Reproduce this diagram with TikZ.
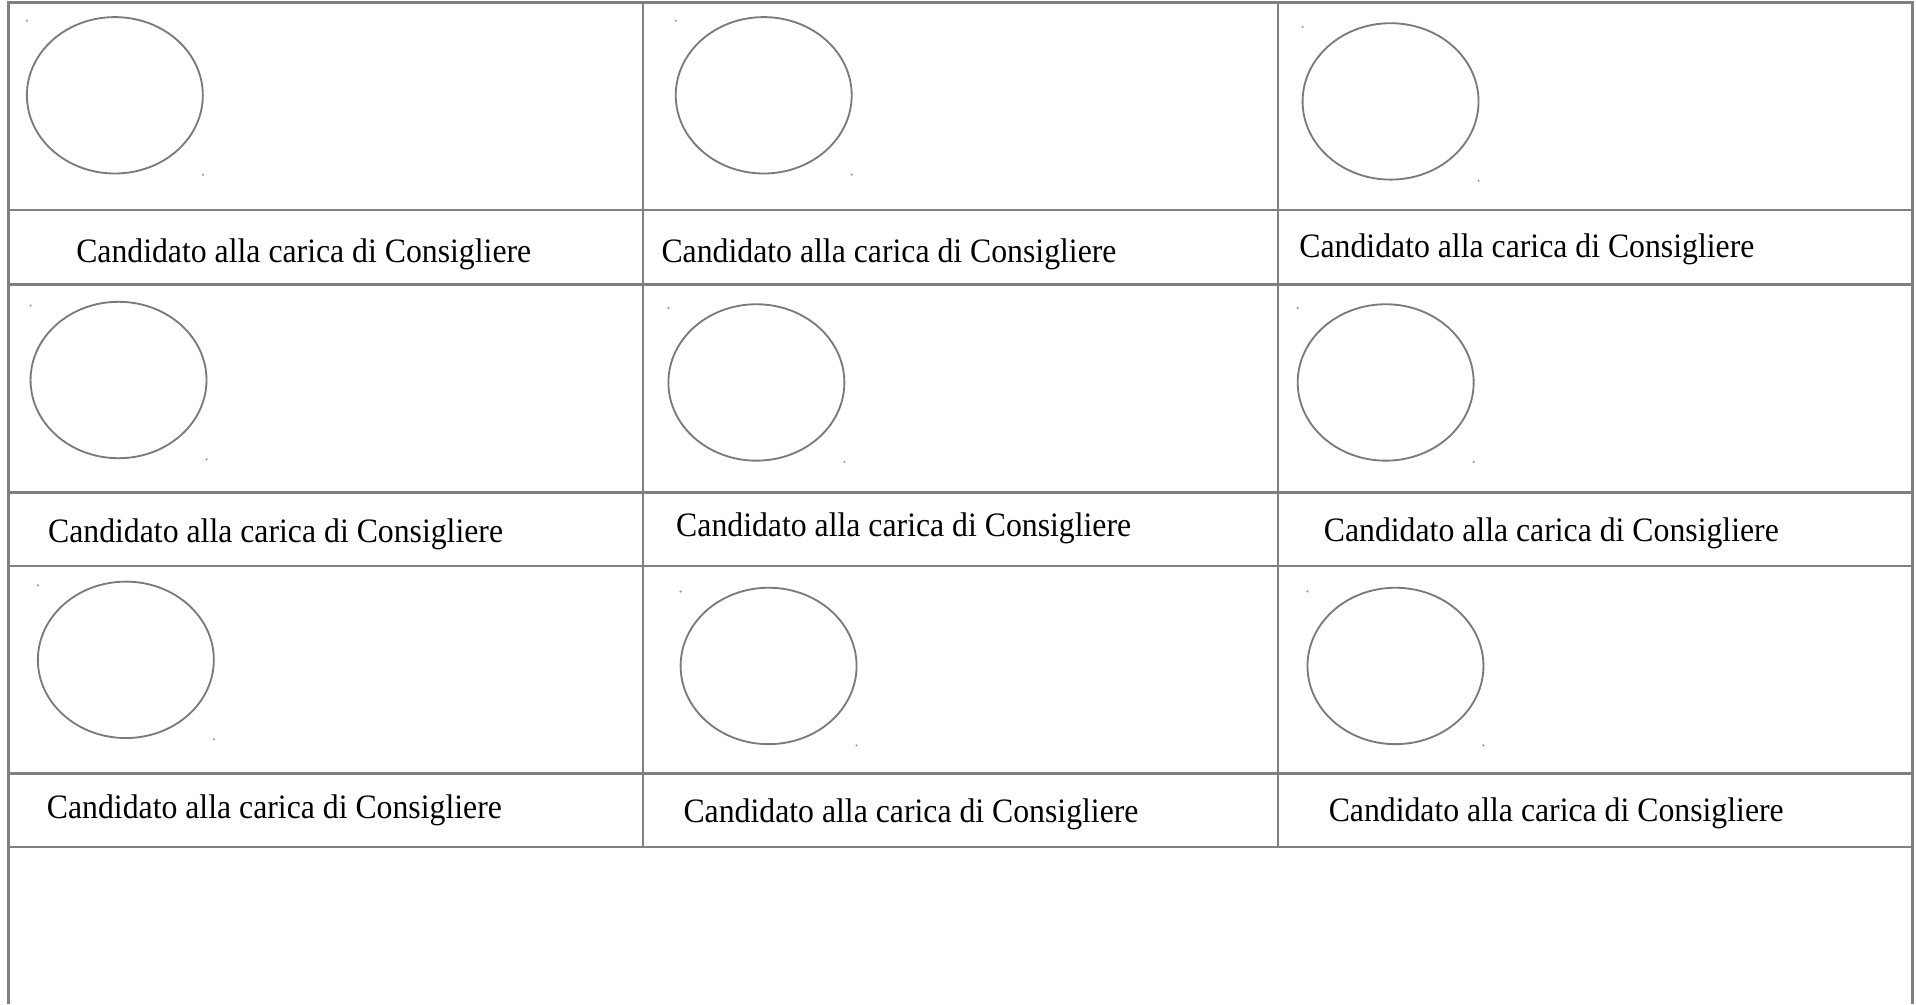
\documentclass[tikz,border=0pt]{standalone}
\usepackage{fontspec}
\setmainfont{Liberation Serif}
\newcommand{\candlabel}{\scalebox{0.928}[1]{Candidato alla carica di Consigliere}}
\begin{document}
\begin{tikzpicture}[x=0.5pt,y=-0.5pt,
  gridline/.style={draw=black!50,line width=1pt},
  oval/.style={draw=black!52,line width=0.75pt},
  speck/.style={fill=black!40},
  label/.style={anchor=base west,inner sep=0pt,font=\fontsize{14}{16}\selectfont}]
\fill[white] (0,0) rectangle (1568,822);
\useasboundingbox (0,0) rectangle (1568,822);
% outer frame
\draw[gridline] (7,822) -- (7,2) -- (1565,2) -- (1565,822);
% horizontal lines
\foreach \yy in {172,233,403,463,633,693}
  \draw[gridline] (7,\yy) -- (1565,\yy);
% column dividers
\draw[gridline] (526,2) -- (526,693);
\draw[gridline] (1046,2) -- (1046,693);
% ovals with corner specks
\foreach \cx/\cy/\nm in {94/78/a,625/78/b,1138/83/c,97/311/d,619/313/e,1134/313/f,103/540/g,629/545/h,1142/545/i}{
  \draw[oval] (\cx,\cy) ellipse [x radius=72,y radius=64];
  \fill[speck] (\cx-72,\cy-61) circle (0.5pt);
  \fill[speck] (\cx+72,\cy+65) circle (0.5pt);
}
% labels
\node[label] (t1) at (62,215) {\candlabel};
\node[label] (t2) at (541,215) {\candlabel};
\node[label] (t3) at (1063,211) {\candlabel};
\node[label] (t4) at (39,444) {\candlabel};
\node[label] (t5) at (553,439) {\candlabel};
\node[label] (t6) at (1083,443) {\candlabel};
\node[label] (t7) at (38,670) {\candlabel};
\node[label] (t8) at (559,673) {\candlabel};
\node[label] (t9) at (1087,672) {\candlabel};
\end{tikzpicture}
\end{document}
